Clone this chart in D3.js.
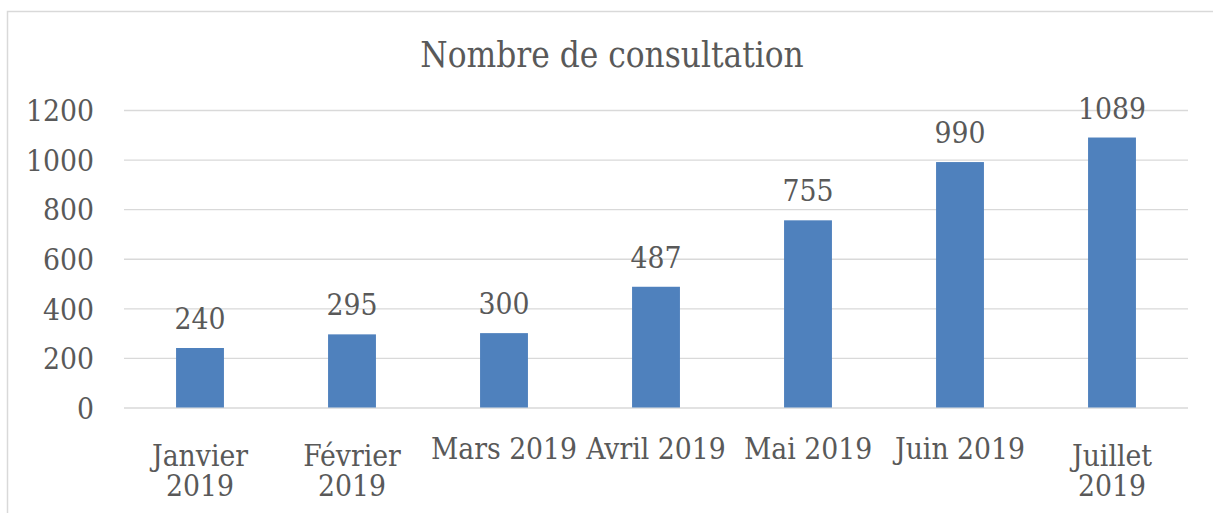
<!DOCTYPE html>
<html>
<head>
<meta charset="utf-8">
<script src="https://cdn.jsdelivr.net/npm/d3@7"></script>
<style>
  html, body { margin: 0; padding: 0; background: #fff; }
  svg text { font-family: "DejaVu Serif Condensed", "DejaVu Serif", serif; font-stretch: condensed; fill: #595959; }
</style>
</head>
<body>
<svg id="chart" width="1213" height="513"></svg>
<script>
const title = "Nombre de consultation";
const categories = [["Janvier", "2019"], ["Février", "2019"], ["Mars 2019"], ["Avril 2019"], ["Mai 2019"], ["Juin 2019"], ["Juillet", "2019"]];
const values = [240, 295, 300, 487, 755, 990, 1089];
const yTicks = [0, 200, 400, 600, 800, 1000, 1200];

const svg = d3.select("#chart");
const W = 1213, H = 513;
const margin = { left: 124, right: 25, top: 110, bottom: 105.5 };

// outer border
svg.append("rect")
  .attr("x", 7.5).attr("y", 11.5)
  .attr("width", W + 20).attr("height", H + 20)
  .attr("fill", "none").attr("stroke", "#d9d9d9").attr("stroke-width", 1.5);

const x = d3.scaleBand()
  .domain(categories.map((d, i) => i))
  .range([margin.left, W - margin.right])
  .paddingInner(0.685).paddingOuter(0.3425);

const y = d3.scaleLinear().domain([0, 1200]).range([H - margin.bottom, margin.top]);

// gridlines
const grid = svg.append("g")
  .attr("transform", `translate(${margin.left},0)`)
  .call(d3.axisLeft(y).tickValues(yTicks).tickSize(-(W - margin.right - margin.left)).tickFormat(""));
grid.select(".domain").remove();
grid.selectAll("line").attr("stroke", "#d9d9d9").attr("stroke-width", 1.3);

// y tick labels
const yAxis = svg.append("g")
  .attr("transform", `translate(94,0)`)
  .call(d3.axisLeft(y).tickValues(yTicks).tickSize(0).tickPadding(0).tickFormat(d3.format("d")));
yAxis.select(".domain").remove();
yAxis.selectAll("text")
  .attr("font-size", 29.7)
  .attr("dy", "0.36em")
  .style("fill", "#595959");

// bars
svg.append("g").selectAll("rect")
  .data(values)
  .join("rect")
  .attr("x", (d, i) => x(i))
  .attr("width", x.bandwidth())
  .attr("y", d => y(d))
  .attr("height", d => y(0) - y(d))
  .attr("fill", "#4f81bd");

// value labels
svg.append("g").selectAll("text")
  .data(values)
  .join("text")
  .attr("x", (d, i) => x(i) + x.bandwidth() / 2)
  .attr("y", d => y(d) - 19)
  .attr("text-anchor", "middle")
  .attr("font-size", 29.7)
  .text(d => d);

// x labels
const xl = svg.append("g").selectAll("text")
  .data(categories)
  .join("text")
  .attr("text-anchor", "middle")
  .attr("font-size", 29.7)
  .attr("y", d => d.length > 1 ? 466 : 458.5);
xl.each(function(d, i) {
  const t = d3.select(this);
  const cx = x(i) + x.bandwidth() / 2;
  d.forEach((line, j) => {
    t.append("tspan").attr("x", cx).attr("dy", j === 0 ? 0 : 30).text(line);
  });
});

// title
svg.append("text")
  .attr("x", 612).attr("y", 66.5)
  .attr("text-anchor", "middle")
  .attr("font-size", 34.8)
  .text(title);
</script>
</body>
</html>
